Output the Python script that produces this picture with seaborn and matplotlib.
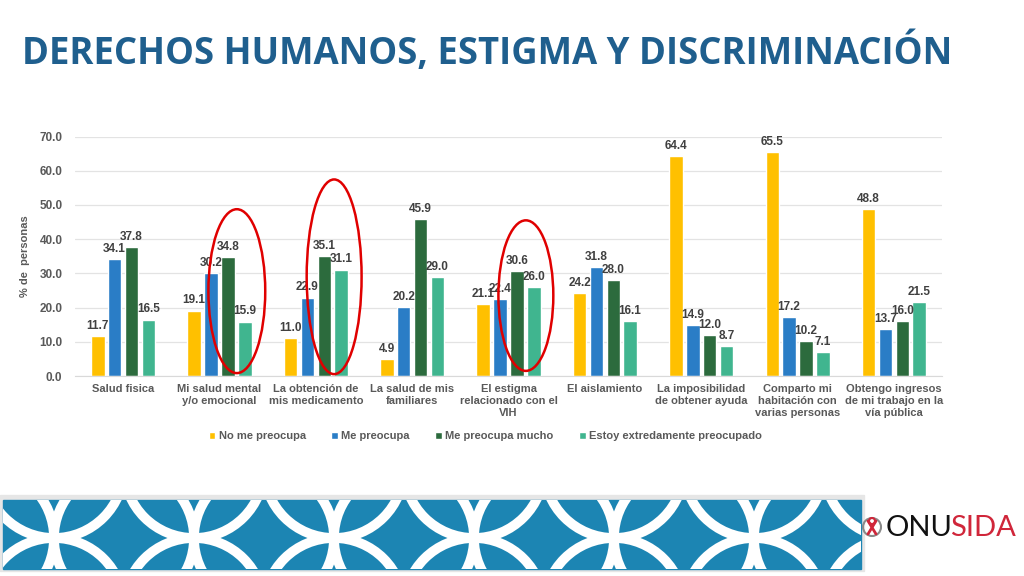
import numpy as np
import pandas as pd
import seaborn as sns
import matplotlib.pyplot as plt
from matplotlib.patches import Ellipse, Rectangle, Circle

categorias = ["Salud fisica", "Mi salud mental\ny/o emocional", "La obtención de\nmis medicamento",
              "La salud de mis\nfamiliares", "El estigma\nrelacionado con el\nVIH", "El aislamiento",
              "La imposibilidad\nde obtener ayuda", "Comparto mi\nhabitación con\nvarias personas",
              "Obtengo ingresos\nde mi trabajo en la\nvía pública"]
series = ["No me preocupa", "Me preocupa", "Me preocupa mucho", "Estoy extredamente preocupado"]
no_preocupa = [11.7, 19.1, 11.0, 4.9, 21.1, 24.2, 64.4, 65.5, 48.8]
preocupa = [34.1, 30.2, 22.9, 20.2, 22.4, 31.8, 14.9, 17.2, 13.7]
preocupa_mucho = [37.8, 34.8, 35.1, 45.9, 30.6, 28.0, 12.0, 10.2, 16.0]
extremo = [16.5, 15.9, 31.1, 29.0, 26.0, 16.1, 8.7, 7.1, 21.5]
colores = ["#FFC000", "#2A7DC6", "#2C6B3D", "#40B58F"]

df = pd.DataFrame({
    "categoria": categorias * 4,
    "serie": np.repeat(series, len(categorias)),
    "valor": no_preocupa + preocupa + preocupa_mucho + extremo,
})

sns.set_style("white")
plt.rcParams['font.family'] = ['Liberation Sans', 'DejaVu Sans']

fig = plt.figure(figsize=(10.24, 5.76), dpi=100)
ax = fig.add_axes([0.0732, 0.3472, 0.8468, 0.4158])

sns.barplot(data=df, x="categoria", y="valor", hue="serie", palette=colores, saturation=1,
            width=0.7, gap=0.2, ax=ax, legend=True)

for cont in ax.containers:
    ax.bar_label(cont, fmt="%.1f", padding=3, fontsize=8.5, fontweight="bold", color="#404040")

ax.set_ylim(0, 70)
ax.set_xlim(-0.5, len(categorias) - 0.5)
ax.set_yticks(np.arange(0, 71, 10))
ax.set_yticklabels([f"{v:.1f}" for v in np.arange(0, 71, 10)], fontsize=8.5, fontweight="bold", color="#595959")
ax.tick_params(axis="x", labelsize=8, colors="#595959", length=0, pad=6)
ax.tick_params(axis="y", length=0, pad=9)
for lab in ax.get_xticklabels():
    lab.set_fontweight("bold")
    lab.set_linespacing(1.25)
ax.grid(axis="y", color="#E3E3E3", linewidth=0.9)
ax.set_axisbelow(True)
for s in ["top", "right", "left"]:
    ax.spines[s].set_visible(False)
ax.spines["bottom"].set_color("#D9D9D9")
ax.set_xlabel("")
ax.set_ylabel("% de  personas", fontsize=8, color="#595959", fontweight="bold", labelpad=7)

# resaltados en rojo
for g, dx, yc, w, h in [(1, 0.18, 24.8, 0.59, 47.9), (2, 0.19, 29.0, 0.57, 56.9), (4, 0.18, 23.5, 0.57, 44.0)]:
    ax.add_patch(Ellipse((g + dx, yc), w, h, fill=False, edgecolor="#E00000", linewidth=1.8,
                         clip_on=False, zorder=5))

handles, labels = ax.get_legend_handles_labels()
ax.legend_.remove()
fig.legend(handles, labels, loc="center", bbox_to_anchor=(0.474, 0.243), ncol=4, frameon=False,
           handlelength=0.6, handleheight=0.6, handletextpad=0.3, columnspacing=2.3,
           prop={"weight": "bold", "size": 8}, labelcolor="#595959")

fig.text(0.0215, 0.908, "DERECHOS HUMANOS, ESTIGMA Y DISCRIMINACIÓN", fontsize=26.3, fontweight="bold",
         color="#1F5F8E", family="Open Sans", va="center", ha="left")

# franja decorativa inferior
ban = fig.add_axes([0, 0, 1, 1], zorder=-1)
ban.set_xlim(0, 1024)
ban.set_ylim(576, 0)
ban.axis("off")
ban.add_patch(Rectangle((0, 495), 864, 76, color="#E6E6E6"))
fondo = Rectangle((3, 500), 858, 69, color="#1C85B3")
ban.add_patch(fondo)
for cx in np.arange(54, 900, 140):
    for cy in (468, 608):
        c = Circle((cx, cy), 70, fill=False, edgecolor="white", linewidth=7)
        ban.add_patch(c)
        c.set_clip_path(fondo)
for cx in np.arange(-16, 930, 140):
    c = Circle((cx, 538), 70, fill=False, edgecolor="white", linewidth=7)
    ban.add_patch(c)
    c.set_clip_path(fondo)

# logo
ban.add_patch(Circle((872, 527), 9, fill=False, edgecolor="#8A8A8A", linewidth=1.5))
ban.plot([868, 876], [534, 521], color="#D0263A", linewidth=2)
ban.plot([876, 868], [534, 521], color="#D0263A", linewidth=2)
ban.add_patch(Circle((872, 521), 3, fill=False, edgecolor="#D0263A", linewidth=1.5))
ban.text(886, 528, "ONU", color="#111111", fontsize=21, family="Lato", va="center", ha="left")
ban.text(950, 528, "SIDA", color="#D0263A", fontsize=21, family="Lato", va="center", ha="left")

plt.savefig("out.png", dpi=100)
